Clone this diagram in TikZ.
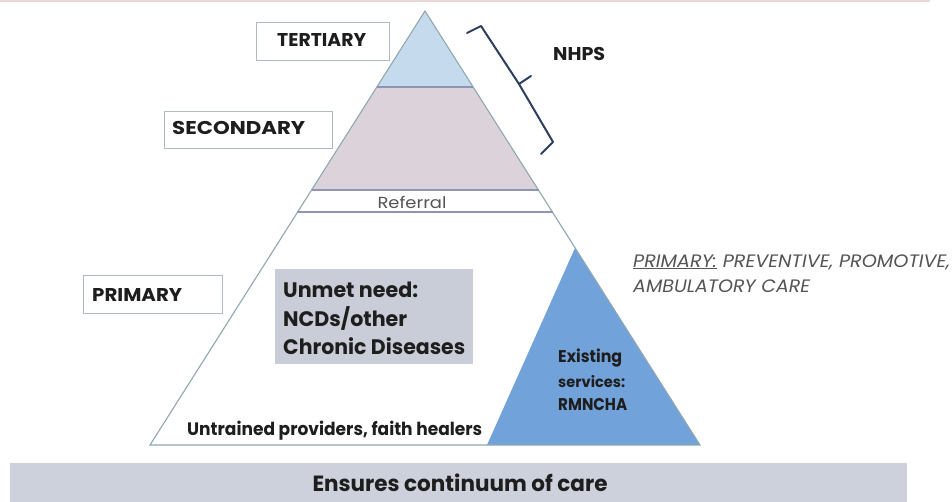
\documentclass[tikz,border=0pt]{standalone}
\usepackage{graphicx}
\usepackage{fontspec}
\setmainfont{Poppins}
\newfontfamily\cg{Poppins}
\newcommand{\wfit}[2]{\resizebox{#1}{\height}{#2}}
\definecolor{outl}{HTML}{8FA8B0}
\definecolor{bandl}{HTML}{8E94B4}
\definecolor{terf}{HTML}{C6DAEE}
\definecolor{secf}{HTML}{DCD3DA}
\definecolor{bluef}{HTML}{72A2DA}
\definecolor{unmetf}{HTML}{C9CDD8}
\definecolor{barf}{HTML}{CCD1DB}
\definecolor{boxl}{HTML}{AEBBC6}
\definecolor{topl}{HTML}{EAD8D8}
\definecolor{txt}{HTML}{1E1E1E}
\definecolor{brk}{HTML}{2E3F5E}
\definecolor{gtxt}{HTML}{555555}
\begin{document}
\begin{tikzpicture}[x=1pt,y=-1pt,
  lvlbox/.style={draw=boxl, line width=1pt, fill=white, inner sep=0pt},
  lvltxt/.style={anchor=west, inner sep=0pt, font=\cg\bfseries\fontsize{18.5}{20}\selectfont, text=txt},
  btxt/.style={anchor=base west, inner sep=0pt, text=txt},
  band/.style={draw=bandl, line width=1.2pt},
]
\useasboundingbox (0,0) rectangle (952,501);
\fill[white] (0,0) rectangle (952,501);
\draw[topl, line width=2pt] (0,1) -- (930,1);
% pyramid coordinates
\coordinate (apex) at (425,11);
\coordinate (tl) at (377,87);
\coordinate (tr) at (473,87);
\coordinate (sl) at (311.5,190);
\coordinate (sr) at (538.5,190);
\coordinate (rl) at (297,212);
\coordinate (rr) at (553,212);
\coordinate (bl) at (150,445);
\coordinate (br) at (700,445);
\coordinate (ba) at (575,248);
\coordinate (bb) at (487,445);
% fills
\fill[terf] (apex) -- (tr) -- (tl) -- cycle;
\fill[secf] (tl) -- (tr) -- (sr) -- (sl) -- cycle;
\fill[bluef] (ba) -- (br) -- (bb) -- cycle;
% outline
\draw[outl, line width=1.1pt] (apex) -- (bl) -- (br) -- cycle;
\draw[band] (tl) -- (tr);
\draw[band] (sl) -- (sr);
\draw[band] (rl) -- (rr);
% level boxes
\node[lvlbox, minimum width=133pt, minimum height=38pt] (ter) at (322.5,41) {};
\node[lvlbox, minimum width=168pt, minimum height=37pt] (sec) at (248,129.5) {};
\node[lvlbox, minimum width=139pt, minimum height=38pt] (pri) at (152.5,294) {};
\node[lvltxt] (tert) at (277,40) {\wfit{89pt}{TERTIARY}};
\node[lvltxt] (sect) at (172,128) {\wfit{133pt}{SECONDARY}};
\node[lvltxt] (prit) at (92,295) {\wfit{90pt}{PRIMARY}};
% referral
\node[anchor=base, inner sep=0pt, font=\cg\fontsize{16}{18}\selectfont, text=gtxt] (ref) at (412,208) {\wfit{69pt}{Referral}};
% unmet box
\node[fill=unmetf, minimum width=198pt, minimum height=95pt, inner sep=0pt] (unmet) at (374,316.5) {};
\node[btxt, font=\cg\bfseries\fontsize{21}{24}\selectfont] (un1) at (283,297) {\wfit{135pt}{Unmet need:}};
\node[btxt, font=\cg\bfseries\fontsize{21}{24}\selectfont] (un2) at (283,326) {\wfit{124pt}{NCDs/other}};
\node[btxt, font=\cg\bfseries\fontsize{21}{24}\selectfont] (un3) at (283,354) {\wfit{182pt}{Chronic Diseases}};
% untrained
\node[btxt, font=\cg\bfseries\fontsize{18}{20}\selectfont] (untr) at (187,435) {\wfit{295pt}{Untrained providers, faith healers}};
% existing
\node[btxt, font=\cg\bfseries\fontsize{17}{20}\selectfont] (ex1) at (558,362) {\wfit{64pt}{Existing}};
\node[btxt, font=\cg\bfseries\fontsize{15}{18}\selectfont] (ex2) at (558,387) {\wfit{67pt}{services:}};
\node[btxt, font=\cg\bfseries\fontsize{17}{20}\selectfont] (ex3) at (558,410) {\wfit{69pt}{RMNCHA}};
% primary description
\node[btxt, font=\cg\itshape\fontsize{18}{20}\selectfont, text=gtxt] (pd1) at (633,267) {\wfit{317pt}{\underline{PRIMARY:} PREVENTIVE, PROMOTIVE,}};
\node[btxt, font=\cg\itshape\fontsize{18}{20}\selectfont, text=gtxt] (pd2) at (633,292) {\wfit{177pt}{AMBULATORY CARE}};
% bracket
\coordinate (k1) at (467,33);
\coordinate (k2) at (481,26);
\coordinate (k3) at (519,84);
\coordinate (k4) at (531,76);
\coordinate (k5) at (553,142);
\coordinate (k6) at (541,154);
\draw[brk, line width=2pt, line cap=round, line join=round] (k1) -- (k2) -- (k3) -- (k5) -- (k6);
\draw[brk, line width=2pt, line cap=round] (k3) -- (k4);
\node[btxt, font=\cg\bfseries\fontsize{18.5}{20}\selectfont] (nhps) at (553,60) {\wfit{52pt}{NHPS}};
% bottom bar
\node[fill=barf, minimum width=897pt, minimum height=40pt, inner sep=0pt, anchor=north west] (bar) at (10,463) {};
\node[inner sep=0pt, font=\cg\bfseries\fontsize{22}{24}\selectfont, text=txt] (bart) at (460,483) {\wfit{295pt}{Ensures continuum of care}};
\end{tikzpicture}
\end{document}
